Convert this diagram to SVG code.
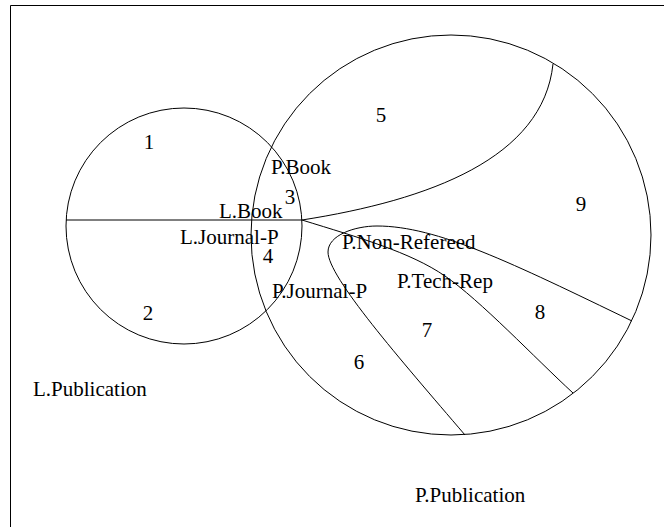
<svg xmlns="http://www.w3.org/2000/svg" width="664" height="527" viewBox="0 0 664 527">
  <style>
    .edge { fill: none; stroke: #000; stroke-width: 1; }
    .lbl { font-family: "Liberation Serif", "Times New Roman", serif; font-size: 21px; fill: #000; }
    .num { text-anchor: middle; }
  </style>
  <rect x="0" y="0" width="664" height="527" fill="#fff"/>

  <!-- frame (open on the right and bottom) -->
  <path class="edge" d="M10.5,527 V5.5 H664"/>

  <!-- L.Publication set -->
  <g id="l-publication">
    <circle class="edge" cx="184" cy="226" r="118"/>
    <text class="lbl" x="33" y="396">L.Publication</text>
  </g>

  <!-- P.Publication set -->
  <g id="p-publication">
    <circle class="edge" cx="451" cy="235" r="200"/>
    <text class="lbl" x="415" y="502">P.Publication</text>
  </g>

  <!-- partition lines -->
  <g id="partitions">
    <!-- L.Book / L.Journal-P split -->
    <path class="edge" d="M66,220 H302"/>
    <!-- P.Book boundary -->
    <path class="edge" d="M302,220 C430,200 543,158 553,64"/>
    <!-- P.Journal-P / P.Tech-Rep boundary -->
    <path class="edge" d="M302,220 C360,238 410,252 445,276 C480,300 535,358 573,393"/>
    <!-- P.Non-Refereed boundary -->
    <path class="edge" d="M632,321 C512,263 437,226 377,226 C355,226 328,235 328,252 C328,277 400,359 465,435"/>
  </g>

  <!-- set labels -->
  <g id="labels">
    <text class="lbl" x="219" y="218">L.Book</text>
    <text class="lbl" x="180" y="244">L.Journal-P</text>
    <text class="lbl" x="271" y="174">P.Book</text>
    <text class="lbl" x="272" y="298">P.Journal-P</text>
    <text class="lbl" x="342" y="249">P.Non-Refereed</text>
    <text class="lbl" x="397" y="288">P.Tech-Rep</text>
  </g>

  <!-- region numbers -->
  <g id="regions">
    <text class="lbl num" x="149" y="149">1</text>
    <text class="lbl num" x="148" y="320">2</text>
    <text class="lbl num" x="290" y="204">3</text>
    <text class="lbl num" x="268" y="263">4</text>
    <text class="lbl num" x="381" y="122">5</text>
    <text class="lbl num" x="359" y="369">6</text>
    <text class="lbl num" x="427" y="337">7</text>
    <text class="lbl num" x="540" y="319">8</text>
    <text class="lbl num" x="581" y="211">9</text>
  </g>
</svg>
